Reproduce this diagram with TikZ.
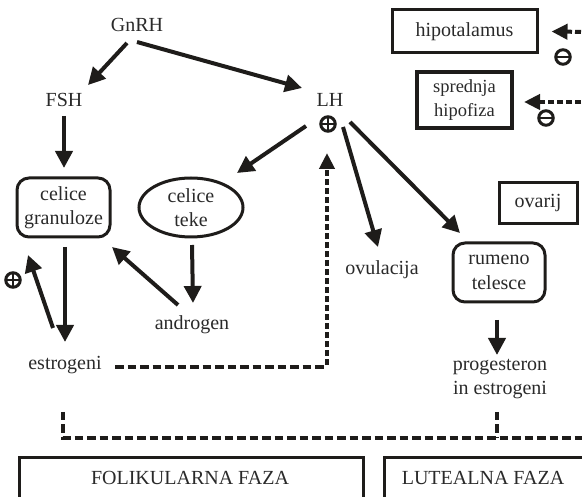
\documentclass[tikz,border=0pt]{standalone}
\usepackage{fontspec}
\setmainfont{Liberation Serif}
\usetikzlibrary{arrows.meta,shapes.geometric}
\definecolor{ink}{HTML}{1E1C1A}
\definecolor{txtc}{HTML}{2A2A2A}

\begin{document}
\begin{tikzpicture}[x=1pt,y=-1pt,
  lbl/.style={font=\fontsize{20}{24.5}\selectfont, text=txtc, inner sep=0pt, align=center},
  sqbox/.style={lbl, draw=ink, line width=3pt, inner sep=0pt},
  rbox/.style={lbl, draw=ink, line width=3pt, rounded corners=12pt, inner sep=0pt},
  ovalbox/.style={lbl, ellipse, draw=ink, line width=3pt, inner sep=0pt},
  arr/.style={draw=ink, line width=4pt, -{Triangle[length=17pt,width=17pt]}},
  dasharr/.style={draw=ink, line width=4pt, dash pattern=on 6pt off 3pt,
    -{Triangle[length=16pt,width=15pt]}},
  dashlong/.style={draw=ink, line width=3.5pt, dash pattern=on 8.5pt off 4pt},
  dashline/.style={draw=ink, line width=3.2pt, dash pattern=on 8.5pt off 4pt},
  signring/.style={circle, draw=ink, line width=3pt, minimum size=14.5pt, inner sep=0pt},
  signbar/.style={draw=ink, line width=2.8pt}
]
\useasboundingbox (0,0) rectangle (582,497);

% hormones and cells
\node[lbl] (gnrh) at (137,25) {GnRH};
\node[lbl] (fsh) at (64,100) {FSH};
\node[lbl] (lh) at (330,100) {LH};
\node[signring] (lhplus) at (328,124) {};
\draw[signbar] (lhplus.center) +(-6,0) -- +(6,0);
\draw[signbar] (lhplus.center) +(0,-6) -- +(0,6);

\node[rbox, minimum width=93pt, minimum height=59pt] (gran) at (63.5,207.5) {celice\\granuloze};
\node[ovalbox, minimum width=104pt, minimum height=59pt] (teka) at (191,207.5) {celice\\teke};
\node[lbl] (andr) at (192,325) {androgen};
\node[lbl] (estr) at (65,365) {estrogeni};
\node[signring] (granplus) at (13,280) {};
\draw[signbar] (granplus.center) +(-6,0) -- +(6,0);
\draw[signbar] (granplus.center) +(0,-6) -- +(0,6);

\node[lbl] (ovul) at (382,270) {ovulacija};
\node[rbox, minimum width=92pt, minimum height=59pt] (rum) at (499,272.5) {rumeno\\telesce};
\node[lbl] (prog) at (500,379) {progesteron\\in estrogeni};

% organ labels on the right
\node[sqbox, minimum width=145pt, minimum height=43pt] (hypo) at (464.5,31.5) {hipotalamus};
\node[sqbox, line width=4pt, minimum width=95pt, minimum height=56pt,
      font=\fontsize{18.5}{24}\selectfont] (hyph) at (464.5,100) {sprednja\\hipofiza};
\node[sqbox, minimum width=78pt, minimum height=41pt] (ovar) at (538,203.5) {ovarij};

\coordinate (hypoin) at (590,32);
\coordinate (hyphin) at (590,102);
\node[signring] (hypominus) at (563,57) {};
\draw[signbar] (hypominus.center) +(-6,0) -- +(6,0);
\node[signring] (hyphminus) at (546,118) {};
\draw[signbar] (hyphminus.center) +(-6,0) -- +(6,0);

% phase boxes along the bottom
\node[lbl] (folt) at (190,478) {FOLIKULARNA FAZA};
\node[lbl] (lutt) at (483,478) {LUTEALNA FAZA};
\draw[ink, line width=3pt] (19,520) |- (363,458) -- (363,520);
\draw[ink, line width=3pt] (384,520) |- (600,458);

% solid arrows
\draw[arr] ([shift={(-10,18)}]gnrh.center) -- ([shift={(24,-15)}]fsh.center);
\draw[arr] ([shift={(0,17)}]gnrh.center) -- ([shift={(-28,-12)}]lh.center);
\draw[arr] ([shift={(0,16)}]fsh.center) -- ([shift={(0.5,-39.5)}]gran.center);
\draw[arr] ([shift={(-22,2)}]lhplus.center) -- ([shift={(46,-34.5)}]teka.center);
\draw[arr] ([shift={(15,3)}]lhplus.center) -- ([shift={(-4,-23)}]ovul.center);
\draw[arr] ([shift={(22,-2)}]lhplus.center) -- ([shift={(-39,-39.5)}]rum.center);
\draw[arr] ([shift={(1,37.5)}]teka.center) -- ([shift={(1,-22)}]andr.center);
\draw[arr] ([shift={(-14,-20)}]andr.center) -- ([shift={(48.5,39.5)}]gran.center);
\draw[arr] ([shift={(1.5,39.5)}]gran.center) -- ([shift={(0,-23)}]estr.center);
\draw[arr] ([shift={(-12,-37)}]estr.center) -- ([shift={(-35.5,47.5)}]gran.center);
\draw[arr] ([shift={(-2,47.5)}]rum.center) -- ([shift={(-3,-24)}]prog.center);

% dashed feedback paths
\coordinate (estrout) at ([shift={(50,2)}]estr.center);
\coordinate (lhin) at ([shift={(-1,29)}]lhplus.center);
\draw[dashlong] (estrout) -- (estrout -| lhin);
\draw[dasharr] ([yshift=2pt]estrout -| lhin) -- (lhin);
\draw[dasharr] (hypoin) -- ([xshift=13pt]hypo.east);
\draw[dasharr] (hyphin) -- ([xshift=10pt,yshift=-2pt]hyph.east);

\coordinate (railend) at (590,438);
\draw[dashline] ([shift={(-2,47)}]estr.center) |- (railend);
\draw[dashline] ([shift={(-3,33)}]prog.center) -- ([shift={(-3,59)}]prog.center);
\end{tikzpicture}
\end{document}
